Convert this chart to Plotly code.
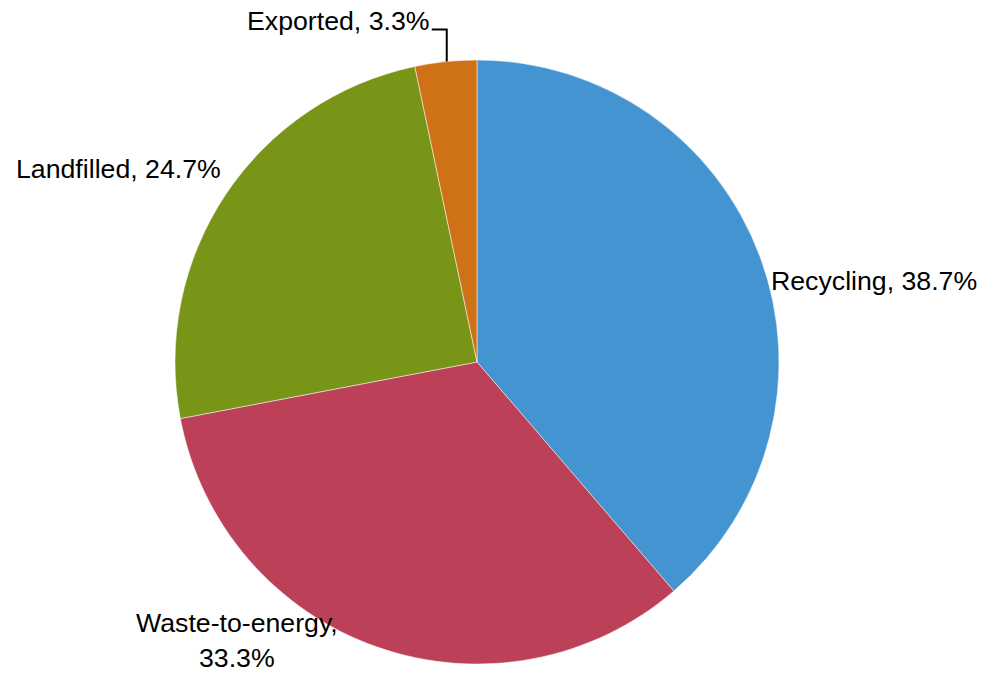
import math
import plotly.graph_objects as go

categories = ["Recycling", "Waste-to-energy", "Landfilled", "Exported"]
shares = [38.7, 33.3, 24.7, 3.3]
label_texts = ["Recycling, 38.7%", "Waste-to-energy,<br>33.3%", "Landfilled, 24.7%", "Exported, 3.3%"]
colors = ["#4394D0", "#BC4057", "#789518", "#CF7117"]

W, H = 984, 673
cx, cy, r = 477, 362, 302
FONT = "Liberation Sans, Arial, sans-serif"
FSIZE = 26.7

fig = go.Figure(go.Pie(
    labels=categories,
    values=shares,
    textinfo="none",
    sort=False,
    direction="clockwise",
    rotation=0,
    marker=dict(colors=colors, line=dict(color="white", width=0.5)),
    showlegend=False,
    hoverinfo="label+percent",
    domain=dict(x=[(cx - r) / W, (cx + r) / W], y=[(H - cy - r) / H, (H - cy + r) / H]),
))

# label placement relative to the rim point at each slice's mid-angle (pixel offsets)
offsets = [
    dict(dx=9, dy=24, xanchor="left", align="left"),
    dict(dx=-140, dy=-7, xanchor="center", align="center"),
    dict(dx=-3, dy=-26, xanchor="right", align="right"),
    dict(dx=-15, dy=-41, xanchor="right", align="right"),
]

total = sum(shares)
cum = 0.0
rims = []
for v in shares:
    mid = (cum + v / 2) / total * 2 * math.pi
    cum += v
    px = cx + r * math.sin(mid)
    py = cy - r * math.cos(mid)
    rims.append((px, py))

def to_paper(px, py):
    return px / W, 1 - py / H

for txt, (px, py), o in zip(label_texts, rims, offsets):
    ax, ay = to_paper(px + o["dx"], py + o["dy"])
    fig.add_annotation(
        x=ax, y=ay, xref="paper", yref="paper",
        text=txt, showarrow=False,
        xanchor=o["xanchor"], yanchor="middle", align=o["align"],
        font=dict(family=FONT, size=FSIZE, color="#000000"),
    )

# leader line for the small slice
ex, ey = rims[3]
p0 = to_paper(ex + 1, ey)
p1 = to_paper(ex + 1, ey - 32)
p2 = to_paper(ex - 14, ey - 32)
fig.add_shape(
    type="path", xref="paper", yref="paper",
    path=f"M {p0[0]} {p0[1]} L {p1[0]} {p1[1]} L {p2[0]} {p2[1]}",
    line=dict(color="#000000", width=2),
)

fig.update_layout(
    width=W, height=H,
    margin=dict(l=0, r=0, t=0, b=0),
    paper_bgcolor="white",
    plot_bgcolor="white",
)

fig.write_html("out.html")
